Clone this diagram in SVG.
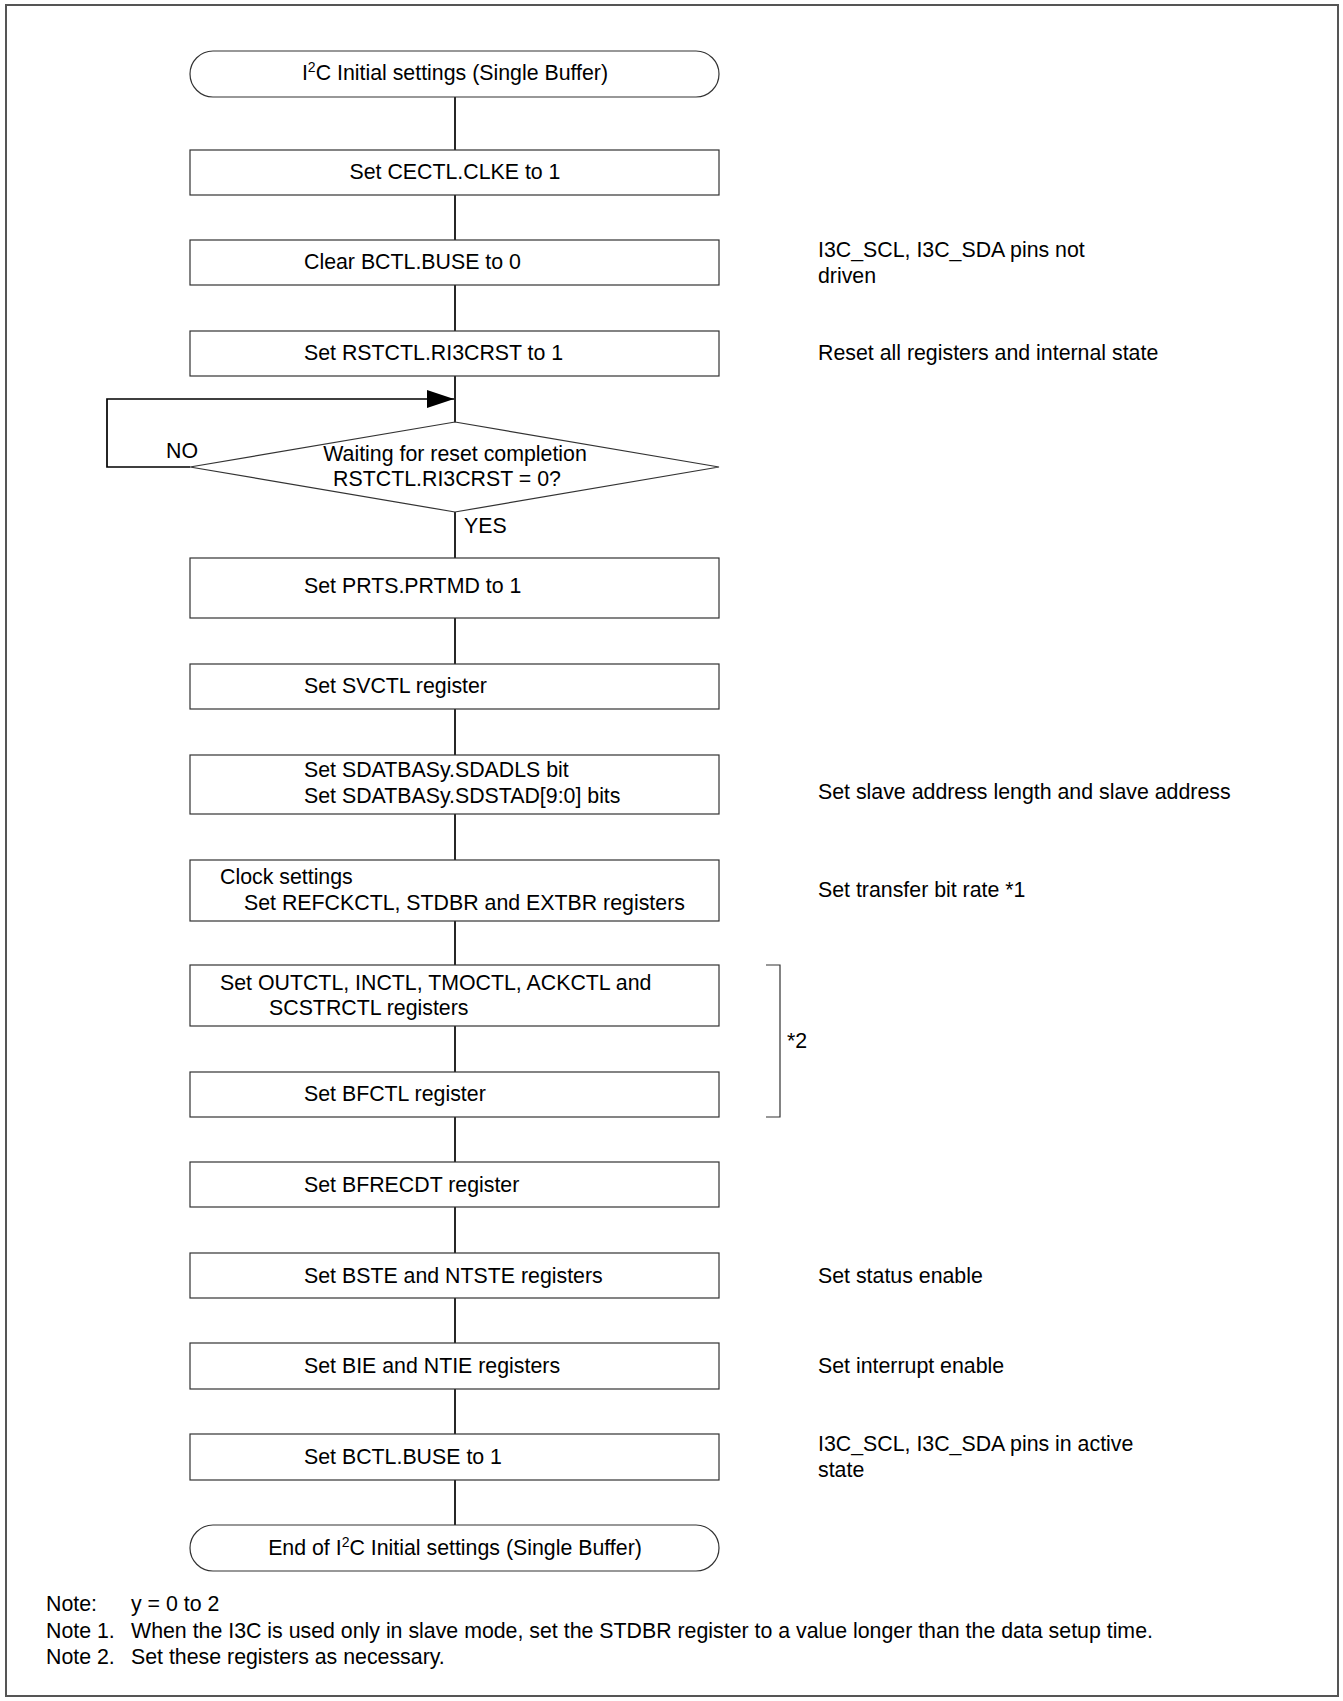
<svg xmlns="http://www.w3.org/2000/svg" width="1343" height="1701" viewBox="0 0 1343 1701">
<defs>
<style>
text{font-family:"Liberation Sans",Arial,sans-serif;font-size:21.33px;fill:#000}
.box{fill:#fff;stroke:#333;stroke-width:1.2}
.ln{fill:none;stroke:#000;stroke-width:1.7}
.c{text-anchor:middle}
</style>
<marker id="ah" markerWidth="27" markerHeight="18" refX="27" refY="9" orient="auto" markerUnits="userSpaceOnUse">
<path d="M0,0 L27,9 L0,18 Z" fill="#000"/>
</marker>
</defs>
<rect x="6" y="5" width="1332" height="1691" fill="#fff" stroke="#555" stroke-width="2"/>
<g id="connectors">
<line class="ln" x1="455" y1="97" x2="455" y2="150"/>
<line class="ln" x1="455" y1="195" x2="455" y2="240"/>
<line class="ln" x1="455" y1="285" x2="455" y2="331"/>
<line class="ln" x1="455" y1="376" x2="455" y2="422"/>
<polyline class="ln" points="190,467 107,467 107,399 454,399" marker-end="url(#ah)"/>
<line class="ln" x1="455" y1="512" x2="455" y2="558"/>
<line class="ln" x1="455" y1="618" x2="455" y2="664"/>
<line class="ln" x1="455" y1="709" x2="455" y2="755"/>
<line class="ln" x1="455" y1="814" x2="455" y2="860"/>
<line class="ln" x1="455" y1="921" x2="455" y2="965"/>
<line class="ln" x1="455" y1="1026" x2="455" y2="1072"/>
<line class="ln" x1="455" y1="1117" x2="455" y2="1162"/>
<line class="ln" x1="455" y1="1207" x2="455" y2="1253"/>
<line class="ln" x1="455" y1="1298" x2="455" y2="1343"/>
<line class="ln" x1="455" y1="1389" x2="455" y2="1434"/>
<line class="ln" x1="455" y1="1480" x2="455" y2="1525"/>
<polyline fill="none" stroke="#333" stroke-width="1.2" points="766,965 780,965 780,1117 766,1117"/>
<text x="182" y="458" class="c">NO</text>
<text x="464" y="533">YES</text>
</g>
<g id="start"><rect class="box" x="190" y="51" width="529" height="46" rx="23"/><text x="455" y="80" class="c">I<tspan font-size="14" dy="-8">2</tspan><tspan dy="8">C Initial settings (Single Buffer)</tspan></text></g>
<g id="n1"><rect class="box" x="190" y="150" width="529" height="45"/><text x="455" y="179" class="c">Set CECTL.CLKE to 1</text></g>
<g id="n2"><rect class="box" x="190" y="240" width="529" height="45"/><text x="304" y="269">Clear BCTL.BUSE to 0</text></g>
<g id="n3"><rect class="box" x="190" y="331" width="529" height="45"/><text x="304" y="360">Set RSTCTL.RI3CRST to 1</text></g>
<g id="d1"><polygon class="box" points="455,422 719,467 455,512 190,467"/><text x="455" y="461" class="c">Waiting for reset completion</text><text x="447" y="486" class="c">RSTCTL.RI3CRST = 0?</text></g>
<g id="n4"><rect class="box" x="190" y="558" width="529" height="60"/><text x="304" y="593">Set PRTS.PRTMD to 1</text></g>
<g id="n5"><rect class="box" x="190" y="664" width="529" height="45"/><text x="304" y="693">Set SVCTL register</text></g>
<g id="n6"><rect class="box" x="190" y="755" width="529" height="59"/><text x="304" y="777">Set SDATBASy.SDADLS bit</text><text x="304" y="803">Set SDATBASy.SDSTAD[9:0] bits</text></g>
<g id="n7"><rect class="box" x="190" y="860" width="529" height="61"/><text x="220" y="884">Clock settings</text><text x="244" y="910">Set REFCKCTL, STDBR and EXTBR registers</text></g>
<g id="n8"><rect class="box" x="190" y="965" width="529" height="61"/><text x="220" y="990">Set OUTCTL, INCTL, TMOCTL, ACKCTL and</text><text x="269" y="1015">SCSTRCTL registers</text></g>
<g id="n9"><rect class="box" x="190" y="1072" width="529" height="45"/><text x="304" y="1101">Set BFCTL register</text></g>
<g id="n10"><rect class="box" x="190" y="1162" width="529" height="45"/><text x="304" y="1192">Set BFRECDT register</text></g>
<g id="n11"><rect class="box" x="190" y="1253" width="529" height="45"/><text x="304" y="1283">Set BSTE and NTSTE registers</text></g>
<g id="n12"><rect class="box" x="190" y="1343" width="529" height="46"/><text x="304" y="1373">Set BIE and NTIE registers</text></g>
<g id="n13"><rect class="box" x="190" y="1434" width="529" height="46"/><text x="304" y="1464">Set BCTL.BUSE to 1</text></g>
<g id="end"><rect class="box" x="190" y="1525" width="529" height="46" rx="23"/><text x="455" y="1555" class="c">End of I<tspan font-size="14" dy="-8">2</tspan><tspan dy="8">C Initial settings (Single Buffer)</tspan></text></g>
<g id="annotations">
<text x="818" y="257">I3C_SCL, I3C_SDA pins not</text>
<text x="818" y="283">driven</text>
<text x="818" y="360">Reset all registers and internal state</text>
<text x="818" y="799">Set slave address length and slave address</text>
<text x="818" y="897">Set transfer bit rate *1</text>
<text x="787" y="1048">*2</text>
<text x="818" y="1283">Set status enable</text>
<text x="818" y="1373">Set interrupt enable</text>
<text x="818" y="1451">I3C_SCL, I3C_SDA pins in active</text>
<text x="818" y="1477">state</text>
<text x="46" y="1611">Note:</text><text x="131" y="1611">y = 0 to 2</text>
<text x="46" y="1638">Note 1.</text><text x="131" y="1638">When the I3C is used only in slave mode, set the STDBR register to a value longer than the data setup time.</text>
<text x="46" y="1664">Note 2.</text><text x="131" y="1664">Set these registers as necessary.</text>
</g>
</svg>
